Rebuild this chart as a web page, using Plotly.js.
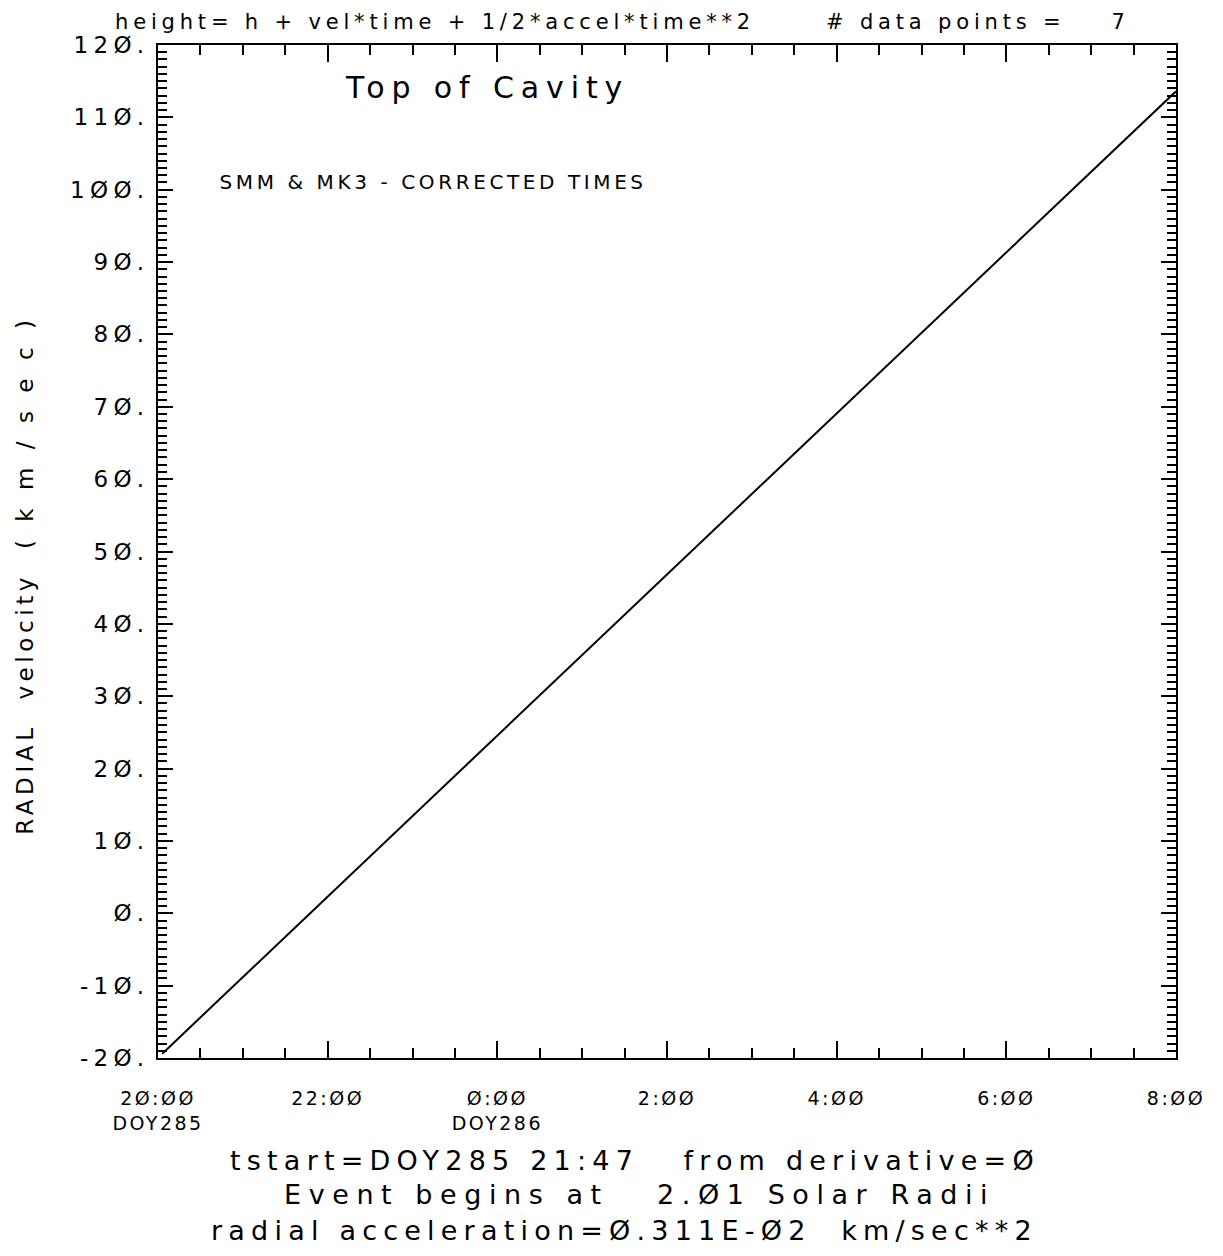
<!DOCTYPE html>
<html>
<head>
<meta charset="utf-8">
<script src="https://cdn.plot.ly/plotly-3.0.1.min.js"></script>
<style>
  body { margin: 0; background: #fff; }
  #chart { width: 1223px; height: 1256px; }
  svg text { letter-spacing: 0.23em; }
  g.xtick text { letter-spacing: 0.13em; }
  g.annotation[data-index="3"] text { letter-spacing: 0.18em; }
  g.annotation[data-index="5"] text { letter-spacing: 0.28em; }
  g.annotation[data-index="7"] text { letter-spacing: 0.2em; }
</style>
</head>
<body>
<div id="chart"></div>
<script>
// ---- data ----
const timeHours = [20.05, 32.0];          // hours after 0:00 DOY285
const radialVelocity = [-19.4, 113.6];     // km/sec

const xTickVals = [20, 22, 24, 26, 28, 30, 32];
const xTickLabels = ["2Ø:ØØ<br>DOY285", "22:ØØ", "Ø:ØØ<br>DOY286", "2:ØØ", "4:ØØ", "6:ØØ", "8:ØØ"];

const yTickVals = [-20, -10, 0, 10, 20, 30, 40, 50, 60, 70, 80, 90, 100, 110, 120];
const yTickLabels = ["-2Ø.", "-1Ø.", "Ø.", "1Ø.", "2Ø.", "3Ø.", "4Ø.", "5Ø.", "6Ø.", "7Ø.", "8Ø.", "9Ø.", "1ØØ.", "11Ø.", "12Ø."];

const headerLeft = "height= h + vel*time + 1/2*accel*time**2";
const headerRight = "# data points =    7";
const plotTitle = "Top of Cavity";
const subTitle = "SMM & MK3 - CORRECTED TIMES";
const footer1 = "tstart=DOY285 21:47   from derivative=Ø";
const footer2 = "Event begins at   2.Ø1 Solar Radii";
const footer3 = "radial acceleration=Ø.311E-Ø2  km/sec**2";
const yTitleMain = "RADIAL  velocity  ";
const yTitleUnit = "(km/sec)";

// ---- chart ----
const font = "DejaVu Sans, Liberation Sans, sans-serif";

const trace = {
  x: timeHours,
  y: radialVelocity,
  mode: "lines",
  line: { color: "#000", width: 2 },
  showlegend: false,
  hoverinfo: "skip"
};

function ann(text, x, y, size, angle) {
  return {
    text: text, xref: "paper", yref: "paper", x: x, y: y,
    xanchor: "center", yanchor: "middle", showarrow: false,
    textangle: angle || 0,
    font: { family: font, size: size, color: "#000" }
  };
}

const layout = {
  width: 1223, height: 1256,
  margin: { l: 158, r: 47, t: 45, b: 198 },
  paper_bgcolor: "#fff", plot_bgcolor: "#fff",
  font: { family: font, color: "#000" },
  xaxis: {
    range: [20, 32],
    tickmode: "array", tickvals: xTickVals, ticktext: xTickLabels,
    ticks: "inside", ticklen: 17, tickwidth: 2, tickcolor: "#000",
    minor: { tickmode: "linear", tick0: 20, dtick: 0.5, ticks: "inside", ticklen: 10, tickwidth: 2, tickcolor: "#000" },
    showline: true, linecolor: "#000", linewidth: 2, mirror: "allticks",
    showgrid: false, zeroline: false,
    tickfont: { family: font, size: 19, color: "#000" },
    ticklabelstandoff: 22
  },
  yaxis: {
    range: [-20, 120],
    tickmode: "array", tickvals: yTickVals, ticktext: yTickLabels,
    ticks: "inside", ticklen: 15, tickwidth: 2, tickcolor: "#000",
    minor: { tickmode: "linear", tick0: 0, dtick: 1, ticks: "inside", ticklen: 9, tickwidth: 2, tickcolor: "#000" },
    showline: true, linecolor: "#000", linewidth: 2, mirror: "allticks",
    showgrid: false, zeroline: false,
    tickfont: { family: font, size: 23, color: "#000" },
    ticklabelstandoff: 2
  },
  annotations: [
    ann(headerLeft, 0.272, 1.0227, 21),
    ann(headerRight, 0.8055, 1.0227, 21),
    ann(plotTitle, 0.323, 0.9576, 30),
    ann(subTitle, 0.270, 0.8648, 20),
    ann(footer1, 0.4686, -0.1007, 27),
    ann(footer2, 0.4725, -0.1352, 27),
    ann(footer3, 0.4578, -0.1698, 27),
    ann(yTitleMain + '<span style="letter-spacing:0.8em">' + yTitleUnit + '</span>', -0.1306, 0.4837, 23, -90)
  ]
};

Plotly.newPlot("chart", [trace], layout, { displayModeBar: false, staticPlot: true });
</script>
</body>
</html>
